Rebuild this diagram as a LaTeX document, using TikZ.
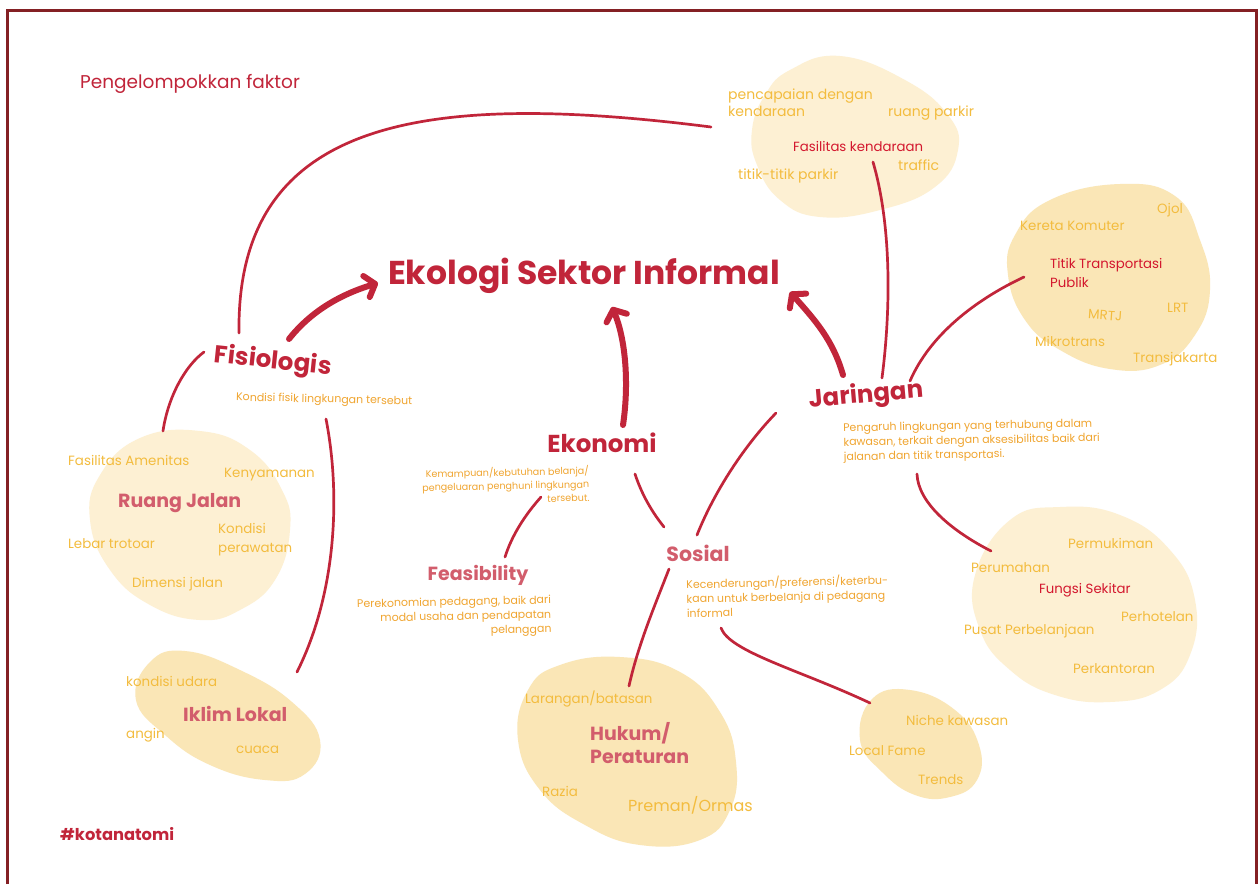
\documentclass[tikz,border=0pt]{standalone}
\usepackage{fontspec}
\setmainfont{Poppins}
\usetikzlibrary{arrows.meta}
\definecolor{cRed}{HTML}{C1253A}
\definecolor{cFrame}{HTML}{842024}
\definecolor{cPink}{HTML}{D25D6C}
\definecolor{cLabRed}{HTML}{D3172E}
\definecolor{cGold}{HTML}{F3BC3E}
\definecolor{cOrange}{HTML}{F0A530}
\definecolor{blobDark}{HTML}{FAE6B6}
\definecolor{blobLight}{HTML}{FDF0D3}
\tikzset{
  lab/.style={inner sep=0pt, text=cGold, anchor=west, font=\fontsize{13.4}{18}\selectfont},
  redlab/.style={inner sep=0pt, text=cLabRed, anchor=west, font=\fontsize{13.3}{19}\selectfont},
  desc/.style={inner sep=0pt, text=cOrange, font=\fontsize{11}{14.5}\selectfont},
  head/.style={inner sep=0pt, text=cRed, font=\bfseries\fontsize{24.5}{30}\selectfont},
  subhead/.style={inner sep=0pt, text=cPink, font=\bfseries\fontsize{19}{23}\selectfont},
  conn/.style={draw=cRed, line width=2.7pt, line cap=round},
  bigarrow/.style={draw=cRed, line width=6pt, line cap=round,
     -{Straight Barb[length=9pt,width=22pt,round]}},
  blobA/.style={fill=blobDark, draw=none},
  blobB/.style={fill=blobLight, draw=none},
}
\begin{document}
\begin{tikzpicture}[x=1pt,y=-1pt]
\useasboundingbox (0,0) rectangle (1259,884);
\fill[white] (0,0) rectangle (1259,884);
% frame
\draw[cFrame, line width=3pt] (7,884) -- (7,10) -- (1256,10) -- (1256,884);

% blobs
\fill[blobB] plot[smooth cycle, tension=0.75] coordinates {(790,70) (840,56) (905,80) (948,115) (958,150) (935,187) (880,210) (820,217) (780,200) (757,165) (752,130) (765,95)};
\fill[blobA] plot[smooth cycle, tension=0.75] coordinates {(1050,200) (1120,184) (1175,196) (1200,240) (1210,290) (1195,335) (1160,365) (1110,369) (1060,350) (1025,320) (1008,275) (1015,235)};
\fill[blobB] plot[smooth cycle, tension=0.75] coordinates {(140,438) (200,431) (250,450) (282,490) (290,530) (275,580) (240,610) (200,620) (150,605) (110,570) (90,520) (100,475)};
\fill[blobA] plot[smooth cycle, tension=0.75] coordinates {(150,662) (185,651) (240,670) (292,702) (320,740) (305,774) (265,780) (210,765) (165,735) (136,700)};
\fill[blobA] plot[smooth cycle, tension=0.75] coordinates {(560,665) (620,657) (680,672) (720,712) (736,762) (730,810) (700,840) (640,845) (585,825) (540,790) (518,740) (528,690)};
\fill[blobA] plot[smooth cycle, tension=0.75] coordinates {(872,699) (910,690) (955,710) (979,745) (977,780) (950,797) (915,795) (882,772) (860,740)};
\fill[blobB] plot[smooth cycle, tension=0.75] coordinates {(1010,520) (1060,507) (1120,515) (1170,550) (1195,600) (1190,655) (1160,690) (1110,702) (1055,695) (1010,670) (980,630) (975,575)};

% main texts
\node[inner sep=0pt, anchor=west, text=cRed, font=\fontsize{18.5}{22}\selectfont] (pf) at (80,84) {Pengelompokkan faktor};
\node[inner sep=0pt, text=cRed, font=\bfseries\fontsize{33}{40}\selectfont] (title) at (584,276) {Ekologi Sektor Informal};
\node[head, rotate=-6] (fis) at (273,362) {Fisiologis};
\node[desc, anchor=west, rotate=-1.3] (fisd) at (236,398) {Kondisi fisik lingkungan tersebut};
\node[head] (eko) at (602,443) {Ekonomi};
\node[desc, anchor=north east, align=right, rotate=1.2, font=\fontsize{9.6}{13.5}\selectfont] (ekod) at (589,465) {Kemampuan/kebutuhan belanja/\\pengeluaran penghuni lingkungan\\tersebut.};
\node[head, rotate=5] (jar) at (866,396) {Jaringan};
\node[desc, anchor=north west, align=left, rotate=1.0] (jard) at (843,423) {Pengaruh lingkungan yang terhubung dalam\\kawasan, terkait dengan aksesibilitas baik dari\\jalanan dan titik transportasi.};
\node[subhead, font=\bfseries\fontsize{20.5}{25}\selectfont] (sos) at (698,553) {Sosial};
\node[desc, anchor=north west, align=left, rotate=1.2] (sosd) at (686,578) {Kecenderungan/preferensi/keterbu-\\kaan untuk berbelanja di pedagang\\informal};
\node[subhead] (feas) at (478,575) {Feasibility};
\node[desc, anchor=north east, align=right, rotate=1.2] (feasd) at (551,595) {Perekonomian pedagang, baik dari\\modal usaha dan pendapatan\\pelanggan};
\node[inner sep=0pt, anchor=west, text=cRed, font=\bfseries\fontsize{16.3}{20}\selectfont] (tag) at (60,834) {\#kotanatomi};

% top blob
\node[lab, anchor=north west, align=left, font=\fontsize{14}{17}\selectfont] (t1) at (728,89) {pencapaian dengan\\kendaraan};
\node[lab, font=\fontsize{14}{17}\selectfont] (t2) at (888,113) {ruang parkir};
\node[redlab] (t3) at (793,146) {Fasilitas kendaraan};
\node[lab, font=\fontsize{14}{17}\selectfont] (t4) at (898,165) {traffic};
\node[lab, font=\fontsize{14}{17}\selectfont] (t5) at (738,176) {titik-titik parkir};

% right blob
\node[lab] (r1) at (1157,210) {Ojol};
\node[lab] (r2) at (1020,226) {Kereta Komuter};
\node[redlab, anchor=north west, align=left] (r3) at (1050,258) {Titik Transportasi\\Publik};
\node[lab, rotate=-4] (r4) at (1088,314) {MRTJ};
\node[lab] (r5) at (1167,308) {LRT};
\node[lab] (r6) at (1035,341) {Mikrotrans};
\node[lab] (r7) at (1133,359) {Transjakarta};

% ruang jalan
\node[lab] (j1) at (68,460) {Fasilitas Amenitas};
\node[lab] (j2) at (224,475) {Kenyamanan};
\node[subhead, anchor=west] (j3) at (118,503) {Ruang Jalan};
\node[lab, anchor=north west, align=left, font=\fontsize{13.4}{19}\selectfont] (j4) at (218,523) {Kondisi\\perawatan};
\node[lab] (j5) at (68,544) {Lebar trotoar};
\node[lab] (j6) at (132,584) {Dimensi jalan};

% iklim lokal
\node[lab] (i1) at (126,681) {kondisi udara};
\node[subhead, anchor=west] (i2) at (183,714) {Iklim Lokal};
\node[lab] (i3) at (126,735) {angin};
\node[lab] (i4) at (236,750) {cuaca};

% hukum
\node[lab] (h1) at (525,699) {Larangan/batasan};
\node[subhead, anchor=north west, align=left] (h2) at (590,722) {Hukum/\\Peraturan};
\node[lab] (h3) at (542,791) {Razia};
\node[lab, font=\fontsize{16}{19}\selectfont] (h4) at (628,805) {Preman/Ormas};

% niche
\node[lab] (n1) at (906,720) {Niche kawasan};
\node[lab] (n2) at (849,751) {Local Fame};
\node[lab] (n3) at (918,780) {Trends};

% fungsi sekitar
\node[lab] (f1) at (1068,543) {Permukiman};
\node[lab] (f2) at (971,568) {Perumahan};
\node[redlab] (f3) at (1039,590) {Fungsi Sekitar};
\node[lab] (f4) at (1121,617) {Perhotelan};
\node[lab] (f5) at (964,631) {Pusat Perbelanjaan};
\node[lab] (f6) at (1073,669) {Perkantoran};

% connector end points
\coordinate (a1s) at (289,339); \coordinate (a1e) at (378,283);
\coordinate (a2s) at (623,425); \coordinate (a2e) at (612,307);
\coordinate (a3s) at (843,375); \coordinate (a3e) at (790,292);
\coordinate (c1s) at (239,333); \coordinate (c1e) at (711,127);
\coordinate (c2s) at (163,431); \coordinate (c2e) at (204,352);
\coordinate (c3s) at (326,419); \coordinate (c3e) at (297,672);
\coordinate (c4s) at (541,497); \coordinate (c4e) at (505,557);
\coordinate (c5s) at (635,474); \coordinate (c5e) at (664,527);
\coordinate (c6s) at (697,535); \coordinate (c6e) at (776,413);
\coordinate (c7s) at (669,569); \coordinate (c7e) at (629,686);
\coordinate (c8s) at (721,628); \coordinate (c8e) at (870,703);
\coordinate (c9s) at (882,378); \coordinate (c9e) at (873,162);
\coordinate (c10s) at (910,381); \coordinate (c10e) at (1024,277);
\coordinate (c11s) at (917,474); \coordinate (c11e) at (991,551);

% thick arrows to title
\draw[bigarrow] (a1s) .. controls (312,310) and (342,294) .. (a1e);
\draw[bigarrow] (a2s) .. controls (629,385) and (626,340) .. (a2e);
\draw[bigarrow] (a3s) .. controls (833,340) and (815,320) .. (a3e);

% thin connectors
\draw[conn] (c1s) .. controls (236,120) and (420,90) .. (c1e);
\draw[conn] (c2s) .. controls (168,397) and (185,366) .. (c2e);
\draw[conn] (c3s) .. controls (340,490) and (338,590) .. (c3e);
\draw[conn] (c4s) .. controls (525,515) and (512,535) .. (c4e);
\draw[conn] (c5s) .. controls (642,495) and (652,512) .. (c5e);
\draw[conn] (c6s) .. controls (715,490) and (745,445) .. (c6e);
\draw[conn] (c7s) .. controls (655,605) and (638,645) .. (c7e);
\draw[conn] (c8s) .. controls (730,652) and (800,670) .. (c8e);
\draw[conn] (c9s) .. controls (892,300) and (890,220) .. (c9e);
\draw[conn] (c10s) .. controls (930,335) and (975,300) .. (c10e);
\draw[conn] (c11s) .. controls (918,502) and (950,530) .. (c11e);
\end{tikzpicture}
\end{document}
